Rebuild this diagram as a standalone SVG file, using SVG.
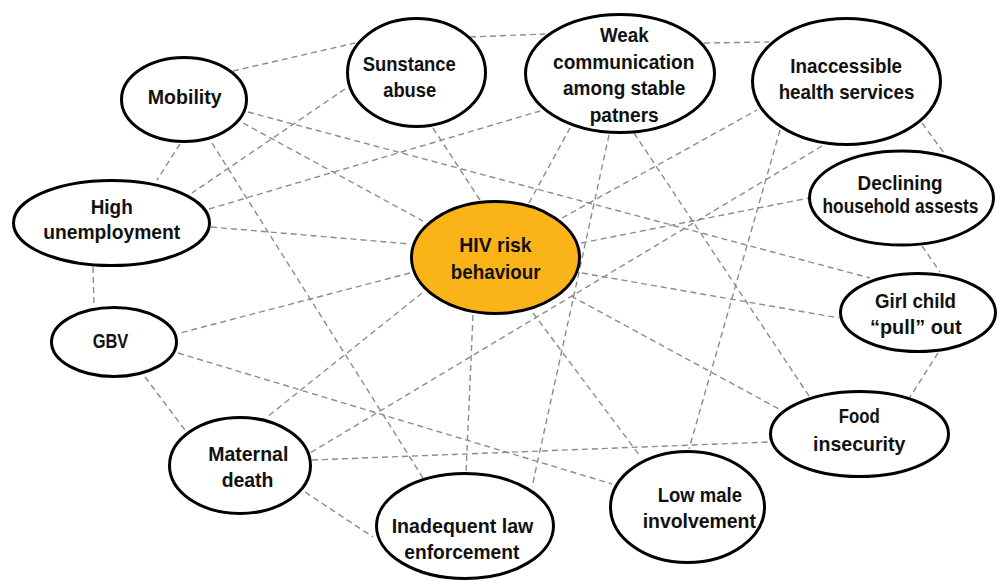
<svg xmlns="http://www.w3.org/2000/svg" width="997" height="581" viewBox="0 0 997 581">
<style>
.c line{stroke:#8c8c8c;stroke-width:1.4;stroke-dasharray:6,4;fill:none}
.n ellipse{fill:#ffffff;stroke:#000000;stroke-width:3}
.hiv ellipse{fill:#FBB418}
text{font-family:"Liberation Sans",Arial,sans-serif;font-weight:bold;font-size:21px;fill:#111111;text-anchor:middle}
</style>
<rect width="997" height="581" fill="#ffffff"/>
<g id="connectors" class="c">
<line x1="233" y1="71" x2="355" y2="43"/>
<line x1="470" y1="37" x2="545" y2="34"/>
<line x1="704" y1="43" x2="769" y2="42"/>
<line x1="922" y1="123" x2="944" y2="153"/>
<line x1="922" y1="246" x2="940" y2="272"/>
<line x1="938" y1="353" x2="910" y2="397"/>
<line x1="180" y1="144" x2="157" y2="180"/>
<line x1="93" y1="267" x2="94" y2="306"/>
<line x1="145" y1="377" x2="185" y2="430"/>
<line x1="305" y1="492" x2="373" y2="537"/>
<line x1="312" y1="460" x2="769" y2="442"/>
<line x1="780" y1="130" x2="689" y2="449"/>
<line x1="248" y1="112" x2="870" y2="278"/>
<line x1="243" y1="123" x2="423" y2="221"/>
<line x1="212" y1="143" x2="423" y2="478"/>
<line x1="345" y1="89" x2="192" y2="193"/>
<line x1="433" y1="128" x2="480" y2="200"/>
<line x1="209" y1="209" x2="540" y2="111"/>
<line x1="211" y1="227" x2="410" y2="244"/>
<line x1="529" y1="203" x2="570" y2="128"/>
<line x1="562" y1="218" x2="757" y2="110"/>
<line x1="581" y1="243" x2="809" y2="198"/>
<line x1="582" y1="273" x2="839" y2="318"/>
<line x1="571" y1="296" x2="779" y2="409"/>
<line x1="533" y1="313" x2="640" y2="456"/>
<line x1="473" y1="315" x2="466" y2="473"/>
<line x1="422" y1="293" x2="267" y2="417"/>
<line x1="410" y1="273" x2="180" y2="333"/>
<line x1="609" y1="135" x2="532" y2="487"/>
<line x1="634" y1="133" x2="809" y2="396"/>
<line x1="822" y1="146" x2="310" y2="453"/>
<line x1="178" y1="353" x2="612" y2="484"/>
</g>
<g id="mobility" class="n">
<ellipse cx="184" cy="99.5" rx="62.5" ry="42"/>
<text x="184.7" y="104" textLength="74" lengthAdjust="spacingAndGlyphs">Mobility</text>
</g>
<g id="substance" class="n">
<ellipse cx="416.5" cy="72.5" rx="69" ry="54"/>
<text x="409.3" y="71" textLength="93" lengthAdjust="spacingAndGlyphs">Sunstance</text>
<text x="409.7" y="97" textLength="53" lengthAdjust="spacingAndGlyphs">abuse</text>
</g>
<g id="unemployment" class="n">
<ellipse cx="111.5" cy="223" rx="98" ry="42.5"/>
<text x="111.7" y="213.5" textLength="42" lengthAdjust="spacingAndGlyphs">High</text>
<text x="111.7" y="238.5" textLength="137" lengthAdjust="spacingAndGlyphs">unemployment</text>
</g>
<g id="hiv" class="n hiv">
<ellipse cx="495.5" cy="257.5" rx="84" ry="56"/>
<text x="495.5" y="251.7" textLength="72.3" lengthAdjust="spacingAndGlyphs">HIV risk</text>
<text x="495.7" y="279" textLength="90" lengthAdjust="spacingAndGlyphs">behaviour</text>
</g>
<g id="communication" class="n">
<ellipse cx="620" cy="73.5" rx="94.5" ry="59"/>
<text x="624.3" y="41.7" textLength="48.7" lengthAdjust="spacingAndGlyphs">Weak</text>
<text x="623.7" y="68.5" textLength="141.3" lengthAdjust="spacingAndGlyphs">communication</text>
<text x="624.2" y="95" textLength="122.3" lengthAdjust="spacingAndGlyphs">among stable</text>
<text x="624.2" y="121.5" textLength="69" lengthAdjust="spacingAndGlyphs">patners</text>
</g>
<g id="health" class="n">
<ellipse cx="846.5" cy="81.5" rx="94" ry="63"/>
<text x="846.2" y="73.3" textLength="111.7" lengthAdjust="spacingAndGlyphs">Inaccessible</text>
<text x="846.5" y="99" textLength="135.7" lengthAdjust="spacingAndGlyphs">health services</text>
</g>
<g id="assets" class="n">
<ellipse cx="901.5" cy="198" rx="92" ry="47"/>
<text x="900" y="190" textLength="85" lengthAdjust="spacingAndGlyphs">Declining</text>
<text x="900.5" y="213" font-size="17" textLength="156" lengthAdjust="spacingAndGlyphs">household assests</text>
</g>
<g id="girlchild" class="n">
<ellipse cx="918" cy="312.5" rx="77.5" ry="39"/>
<text x="915.5" y="307.7" textLength="81" lengthAdjust="spacingAndGlyphs">Girl child</text>
<text x="915.8" y="334.3" textLength="91.7" lengthAdjust="spacingAndGlyphs">“pull” out</text>
</g>
<g id="food" class="n">
<ellipse cx="859.5" cy="434" rx="89" ry="42.5"/>
<text x="859.2" y="423.3" textLength="41" lengthAdjust="spacingAndGlyphs">Food</text>
<text x="859.2" y="450.7" textLength="92.3" lengthAdjust="spacingAndGlyphs">insecurity</text>
</g>
<g id="lowmale" class="n">
<ellipse cx="687.5" cy="507" rx="77" ry="55.5"/>
<text x="699.8" y="501.7" textLength="84.3" lengthAdjust="spacingAndGlyphs">Low male</text>
<text x="699.3" y="528.3" textLength="113.3" lengthAdjust="spacingAndGlyphs">involvement</text>
</g>
<g id="law" class="n">
<ellipse cx="465" cy="526" rx="88.5" ry="52.5"/>
<text x="462.5" y="532.7" textLength="141.7" lengthAdjust="spacingAndGlyphs">Inadequent law</text>
<text x="461.8" y="559" textLength="115" lengthAdjust="spacingAndGlyphs">enforcement</text>
</g>
<g id="maternal" class="n">
<ellipse cx="240" cy="465.5" rx="70.5" ry="48"/>
<text x="248.3" y="460.7" textLength="80" lengthAdjust="spacingAndGlyphs">Maternal</text>
<text x="247.5" y="486.7" textLength="51.7" lengthAdjust="spacingAndGlyphs">death</text>
</g>
<g id="gbv" class="n">
<ellipse cx="114" cy="342" rx="62.5" ry="34.5"/>
<text x="110.5" y="348.3" textLength="35.7" lengthAdjust="spacingAndGlyphs">GBV</text>
</g>
</svg>
